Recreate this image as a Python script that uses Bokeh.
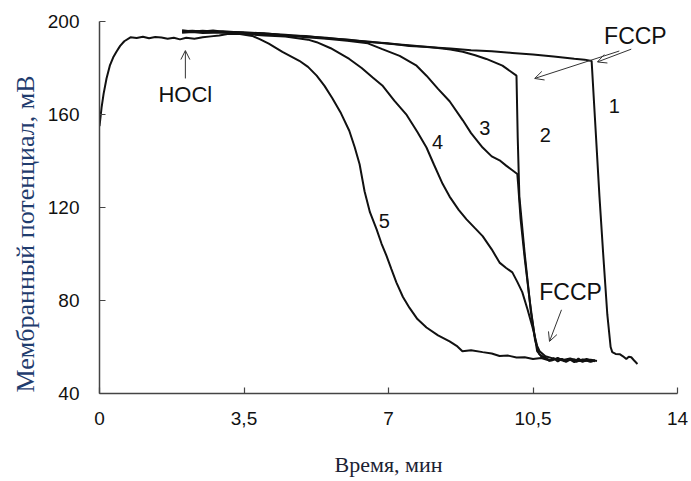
from bokeh.plotting import figure
from bokeh.models import Range1d, FixedTicker, Label, Arrow, OpenHead, Title
from bokeh.embed import file_html
from bokeh.resources import INLINE

# ---- data ----
x_ticks = [0, 3.5, 7, 10.5, 14]
x_tick_labels = ["0", "3,5", "7", "10,5", "14"]
y_ticks = [40, 80, 120, 160, 200]

x5 = [0, 0.05, 0.1, 0.17, 0.25, 0.33, 0.41, 0.5, 0.6, 0.75, 0.9, 1.05, 1.2, 1.35, 1.5, 1.65, 1.8, 1.95,
      2.1, 2.3, 2.5, 2.7, 2.9, 3.1, 3.4, 3.7, 3.88, 4.1, 4.43, 4.84, 5.05, 5.26, 5.45, 5.64, 5.85, 6.05,
      6.18, 6.30, 6.42, 6.55, 6.71, 6.83, 6.95, 7.07, 7.19, 7.35, 7.51, 7.7, 7.92, 8.2, 8.48, 8.65, 8.79,
      9.0, 9.28, 9.5, 9.69, 9.9, 10.1, 10.3, 10.5, 10.7, 10.9, 11.1, 11.3, 11.5, 11.7, 11.9, 12.05]
y5 = [155, 163, 169, 175.5, 181, 184.5, 187, 189.5, 191.5, 193.2, 192.9, 193.4, 192.8, 193.3, 193.1, 192.6, 193.0, 192.3,
      193.0, 192.6, 193.2, 193.6, 194.0, 194.6, 194.6, 193.8, 192.4, 190.5, 186.9, 183.1, 180.5, 176.7, 172.3, 167.0, 160.5, 153.0,
      146.0, 138.6, 127.0, 118.0, 110.7, 104.5, 99.3, 93.5, 87.8, 81.5, 76.8, 72.0, 68.4, 65.0, 62.4, 60.5, 58.2,
      58.6, 57.8, 57.2, 56.1, 56.3, 55.5, 55.6, 54.8, 55.3, 54.2, 55.0, 54.3, 54.6, 53.8, 54.5, 54.0]

x1 = [2.0, 2.25, 2.5, 2.75, 3.0, 3.5, 4.0, 4.5, 5.0, 5.5, 6.0, 6.5, 7.0, 7.5, 8.0, 8.5, 9.0, 9.5, 10.0, 10.5,
      11.0, 11.5, 11.75, 11.92, 12.0, 12.11, 12.2, 12.3, 12.38, 12.42, 12.5, 12.6, 12.68, 12.76, 12.82, 12.88, 12.95, 13.03]
y1 = [195.8, 196.0, 195.7, 196.1, 195.6, 195.4, 194.8, 194.3, 193.6, 193.0, 192.0, 191.4, 190.4, 189.8, 188.9, 188.4, 187.6, 187.2, 186.5, 185.8,
      184.9, 184.0, 183.6, 183.0, 158.5, 124.7, 100.0, 74.0, 60.0, 57.8, 57.0, 56.9, 56.0, 54.8, 55.8, 55.6, 54.2, 52.7]

x2 = [2.0, 2.25, 2.5, 2.75, 3.0, 3.5, 4.0, 4.5, 5.0, 5.5, 6.0, 6.5, 7.0, 7.5, 8.0, 8.5, 8.8, 9.1, 9.37, 9.76,
      10.1, 10.13, 10.17, 10.3, 10.45, 10.6, 10.7, 10.8, 10.9, 11.0, 11.1, 11.2, 11.3, 11.4, 11.5, 11.6, 11.7, 11.8, 11.9, 12.0]
y2 = [195.5, 195.9, 195.9, 195.6, 195.8, 195.2, 194.9, 194.0, 193.8, 192.8, 192.3, 191.2, 190.6, 189.5, 189.0, 188.0, 187.0, 185.5, 183.9, 181.0,
      176.7, 150.0, 124.7, 100.0, 75.0, 58.2, 56.0, 55.5, 54.0, 55.2, 53.8, 54.9, 53.6, 54.6, 53.5, 55.0, 53.7, 54.4, 53.6, 54.2]

x3 = [2.0, 2.25, 2.5, 3.0, 3.5, 4.0, 4.5, 5.0, 5.5, 6.0, 6.5, 6.85, 7.27, 7.68, 7.92, 8.2, 8.48, 8.8, 9.0, 9.28,
      9.5, 9.69, 9.85, 10.0, 10.12, 10.14, 10.2, 10.3, 10.42, 10.55, 10.65, 10.8, 10.95, 11.1, 11.25, 11.4, 11.55, 11.7, 11.85, 12.0]
y3 = [196.2, 195.7, 196.0, 195.4, 195.1, 194.5, 194.1, 193.2, 192.6, 191.7, 190.6, 188.1, 185.2, 181.0, 176.7, 171.0, 165.7, 157.5, 152.0, 145.8,
      142.0, 140.3, 138.0, 136.0, 134.4, 130.0, 115.0, 98.0, 80.0, 63.0, 57.0, 55.0, 54.2, 55.3, 53.9, 54.8, 53.6, 54.7, 53.8, 54.3]

x4 = [2.0, 2.25, 2.5, 3.0, 3.5, 4.0, 4.5, 4.8, 5.05, 5.26, 5.6, 6.05, 6.35, 6.61, 6.85, 7.14, 7.44, 7.7, 7.92, 8.1,
      8.31, 8.48, 8.7, 8.89, 9.1, 9.28, 9.5, 9.69, 9.85, 10.0, 10.12, 10.24, 10.37, 10.49, 10.6, 10.66, 10.8, 11.0, 11.2,
      11.4, 11.6, 11.8, 12.0]
y4 = [195.2, 195.5, 195.1, 195.3, 194.6, 194.0, 193.5, 192.8, 192.2, 191.1, 188.5, 183.9, 180.0, 176.0, 172.5, 166.0, 159.8, 152.5, 145.8, 138.5,
      130.2, 124.7, 119.0, 114.9, 111.0, 107.7, 102.0, 96.3, 94.0, 92.1, 88.0, 83.6, 76.0, 68.4, 60.5, 58.2, 56.0, 55.0, 54.3,
      55.1, 54.0, 54.8, 53.9]

curve_labels = ["1", "2", "3", "4", "5"]
curve_label_x = [12.47, 10.8, 9.33, 8.19, 6.9]
curve_label_y = [163.6, 151.3, 154.3, 148.0, 114.3]

notes = ["FCCP", "FCCP", "HOCl"]
note_x = [12.98, 11.41, 2.08]
note_y = [193.7, 83.6, 168.7]

arrow_x0 = [12.88, 12.59, 11.19, 2.08]
arrow_y0 = [188.1, 187.3, 76.0, 175.5]
arrow_x1 = [12.06, 10.54, 10.9, 2.08]
arrow_y1 = [182.6, 175.5, 62.4, 187.5]

# ---- figure ----
p = figure(width=689, height=479, output_backend="svg", toolbar_location=None,
           x_range=Range1d(0, 14), y_range=Range1d(40, 200),
           min_border_left=99, min_border_right=12, min_border_top=21, min_border_bottom=80)
p.outline_line_color = None
p.xgrid.visible = False
p.ygrid.visible = False
p.background_fill_color = "white"
p.border_fill_color = "white"

for ax in (p.xaxis[0], p.yaxis[0]):
    ax.axis_line_color = "#444444"
    ax.axis_line_width = 1.5
    ax.major_tick_line_color = "#444444"
    ax.major_tick_line_width = 1.2
    ax.major_tick_in = 6
    ax.major_tick_out = 0
    ax.minor_tick_line_color = None
    ax.major_label_text_font = "Liberation Sans"
    ax.major_label_text_font_size = "19px"
    ax.major_label_text_color = "#111111"

p.xaxis.ticker = FixedTicker(ticks=x_ticks)
p.xaxis.major_label_overrides = {t: s for t, s in zip(x_ticks, x_tick_labels)}
p.yaxis.ticker = FixedTicker(ticks=y_ticks)
p.xaxis.major_label_standoff = 18
p.yaxis.major_label_standoff = 20

p.xaxis.axis_label = "Время, мин"
p.xaxis.axis_label_text_font = "Liberation Serif"
p.xaxis.axis_label_text_font_style = "normal"
p.xaxis.axis_label_text_font_size = "22px"
p.xaxis.axis_label_text_color = "#1c2233"
p.xaxis.axis_label_standoff = 24

ytitle = Title(text="Мембранный потенциал, мВ", align="left", offset=1,
               text_font="Liberation Serif", text_font_style="normal",
               text_font_size="26px", text_color="#1F3C6E")
p.add_layout(ytitle, "left")

for xs, ys in [(x5, y5), (x1, y1), (x2, y2), (x3, y3), (x4, y4)]:
    p.line(xs, ys, line_color="#111111", line_width=2)

for t, x, y in zip(curve_labels, curve_label_x, curve_label_y):
    p.add_layout(Label(x=x, y=y, text=t, text_align="center", text_baseline="middle",
                       text_font="Liberation Sans", text_font_size="20px", text_color="#111111"))

for t, x, y in zip(notes, note_x, note_y):
    fs = "22px" if t == "HOCl" else "23px"
    p.add_layout(Label(x=x, y=y, text=t, text_align="center", text_baseline="middle",
                       text_font="Liberation Sans", text_font_size=fs, text_color="#111111"))

for xa, ya, xb, yb in zip(arrow_x0, arrow_y0, arrow_x1, arrow_y1):
    p.add_layout(Arrow(end=OpenHead(size=9, line_width=1, line_color="#333333"),
                       x_start=xa, y_start=ya, x_end=xb, y_end=yb,
                       line_width=1, line_color="#333333"))

open("out.html", "w").write(file_html(p, INLINE))
